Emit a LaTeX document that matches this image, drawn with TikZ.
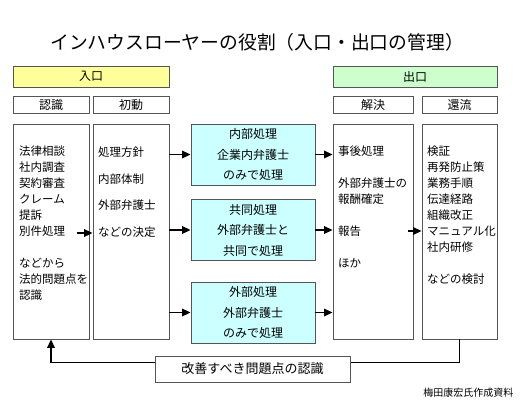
\documentclass[tikz,border=0pt]{standalone}
\usepackage{fontspec}
\setmainfont{Noto Sans CJK JP}
\usetikzlibrary{arrows.meta}
\definecolor{entryfill}{HTML}{FFFF99}
\definecolor{exitfill}{HTML}{CCFFCC}
\definecolor{procfill}{HTML}{CCFFFF}
\definecolor{boxline}{HTML}{555555}
\tikzset{
  box/.style={draw=boxline, line width=0.8pt, inner sep=0pt,
    font=\fontsize{12}{14}\selectfont},
  hdr/.style={box, minimum height=21pt},
  sub/.style={box, minimum height=17pt},
  column/.style={box, minimum height=215pt},
  proc/.style={box, fill=procfill, align=center, minimum width=124pt,
    minimum height=61pt, font=\fontsize{12}{20.5}\selectfont},
  coltext/.style={anchor=north west, align=left, inner sep=0pt,
    font=\fontsize{11.5}{16}\selectfont},
  arr/.style={line width=1.5pt, -{Triangle[length=8.5pt,width=7.5pt]}}
}
\begin{document}
\begin{tikzpicture}[x=1pt, y=-1pt]
  \useasboundingbox (0,0) rectangle (530,400);

  \node[font=\fontsize{18.8}{20}\selectfont] (title) at (257,42)
    {インハウスローヤーの役割（入口・出口の管理）};

  % entry side
  \node[hdr, fill=entryfill, minimum width=156pt] (entry) at (91,76.5) {入口};
  \node[sub, minimum width=76pt] (ninshikihead) at (51,105) {認識};
  \node[sub, minimum width=76pt] (shodohead) at (131,105) {初動};
  \node[column, minimum width=76pt] (ninshiki) at (51,231.5) {};
  \node[column, minimum width=76pt] (shodo) at (131,231.5) {};

  % exit side
  \node[hdr, fill=exitfill, minimum width=164pt] (exit) at (415,76.5) {出口};
  \node[sub, minimum width=80pt] (kaiketsuhead) at (373,105) {解決};
  \node[sub, minimum width=75pt] (kanryuhead) at (459.5,105) {還流};
  \node[column, minimum width=80pt] (kaiketsu) at (373,231.5) {};
  \node[column, minimum width=75pt] (kanryu) at (459.5,231.5) {};

  % column texts
  \node[coltext] (ninshikitext) at (19,146)
    {法律相談\\社内調査\\契約審査\\クレーム\\提訴\\別件処理\\[16pt]
     などから\\法的問題点を\\認識};
  \node[coltext] (shodotext) at (98,147)
    {処理方針\\[10.5pt]内部体制\\[10.5pt]外部弁護士\\[10.5pt]などの決定};
  \node[coltext] (kaiketsutext) at (338,146)
    {事後処理\\[16pt]外部弁護士の\\報酬確定\\[16pt]報告\\[16pt]ほか};
  \node[coltext] (kanryutext) at (427,146)
    {検証\\再発防止策\\業務手順\\伝達経路\\組織改正\\マニュアル化\\社内研修\\[16pt]
     などの検討};

  % processing choices
  \node[proc] (naibu) at (253,154.5) {内部処理\\企業内弁護士\\のみで処理};
  \node[proc] (kyodo) at (253,230) {共同処理\\外部弁護士と\\共同で処理};
  \node[proc] (gaibu) at (253,312.5) {外部処理\\外部弁護士\\のみで処理};

  % arrows
  \coordinate (betsuken) at (77,233);
  \coordinate (houkoku) at (408,231);
  \draw[arr] (betsuken) -- (betsuken -| shodo.west);
  \foreach \p in {naibu, kyodo, gaibu} {
    \draw[arr] (shodo.east |- \p.west) -- (\p.west);
    \draw[arr] (\p.east) -- (\p.east -| kaiketsu.west);
  }
  \draw[arr] (houkoku) -- (houkoku -| kanryu.west);

  % feedback loop
  \draw[arr] (kanryu.south) -- ++(0,23) -| (ninshiki.south);
  \node[box, fill=white, minimum width=195pt, minimum height=26pt,
    font=\fontsize{13}{15}\selectfont] (kaizen) at (252.5,369)
    {改善すべき問題点の認識};

  \node[anchor=east, font=\fontsize{10}{12}\selectfont] (credit) at (517,393)
    {梅田康宏氏作成資料};
\end{tikzpicture}
\end{document}
